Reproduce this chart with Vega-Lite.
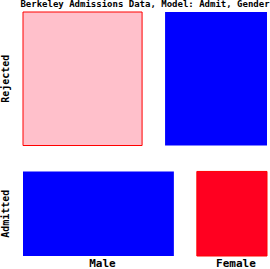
{
  "$schema": "https://vega.github.io/schema/vega-lite/v6.json",
  "width": 244,
  "height": 244,
  "autosize": "none",
  "padding": {"left": 23, "top": 12, "right": 3, "bottom": 13},
  "background": "white",
  "title": {
    "text": "Berkeley Admissions Data, Model: Admit, Gender",
    "font": "DejaVu Sans Mono",
    "fontSize": 9,
    "fontWeight": "bold",
    "color": "black",
    "anchor": "middle",
    "offset": 3
  },
  "data": {
    "values": [
      {"Admit": "Rejected", "Gender": "Male", "count": 1493},
      {"Admit": "Rejected", "Gender": "Female", "count": 1278},
      {"Admit": "Admitted", "Gender": "Male", "count": 1198},
      {"Admit": "Admitted", "Gender": "Female", "count": 557}
    ]
  },
  "transform": [
    {"joinaggregate": [{"op": "sum", "field": "count", "as": "total"}]},
    {"joinaggregate": [{"op": "sum", "field": "count", "as": "rowTotal"}], "groupby": ["Admit"]},
    {"joinaggregate": [{"op": "sum", "field": "count", "as": "colTotal"}], "groupby": ["Gender"]},
    {"calculate": "datum.rowTotal * datum.colTotal / datum.total", "as": "expected"},
    {"calculate": "(datum.count - datum.expected) / sqrt(datum.expected)", "as": "resid"},
    {"window": [{"op": "dense_rank", "as": "rowRank"}], "sort": [{"field": "Admit", "order": "descending"}]},
    {"window": [{"op": "row_number", "as": "colRank"}], "groupby": ["Admit"], "sort": [{"field": "Gender", "order": "descending"}]},
    {"stack": "count", "groupby": [], "sort": [{"field": "Admit", "order": "descending"}, {"field": "Gender", "order": "descending"}], "as": ["c0", "c1"]},
    {"joinaggregate": [{"op": "min", "field": "c0", "as": "rs"}, {"op": "max", "field": "c1", "as": "re"}], "groupby": ["Admit"]},
    {"calculate": "datum.rs / datum.total + (datum.rowRank - 1) * 0.119", "as": "ylo"},
    {"calculate": "datum.re / datum.total + (datum.rowRank - 1) * 0.119", "as": "yhi"},
    {"calculate": "(datum.ylo + datum.yhi) / 2", "as": "ymid"},
    {"stack": "count", "groupby": ["Admit"], "sort": [{"field": "Gender", "order": "descending"}], "as": ["g0", "g1"]},
    {"calculate": "datum.g0 / datum.rowTotal + (datum.colRank - 1) * 0.104", "as": "xlo"},
    {"calculate": "datum.g1 / datum.rowTotal + (datum.colRank - 1) * 0.104", "as": "xhi"},
    {"calculate": "(datum.xlo + datum.xhi) / 2", "as": "xmid"}
  ],
  "layer": [
    {
      "mark": {"type": "rect", "strokeWidth": 1},
      "encoding": {
        "x": {"field": "xlo", "type": "quantitative", "scale": {"domain": [0, 1.104], "nice": false, "zero": false}, "axis": null},
        "x2": {"field": "xhi"},
        "y": {"field": "ylo", "type": "quantitative", "scale": {"domain": [0, 1.119], "nice": false, "zero": false, "reverse": true}, "axis": null},
        "y2": {"field": "yhi"},
        "fill": {"field": "resid", "type": "quantitative", "scale": {"type": "threshold", "domain": [-4, -2, 2, 4], "range": ["#FF0020", "#FFC0CB", "#FFFFFF", "#ADD8E6", "#0000FF"]}, "legend": null},
        "stroke": {"field": "resid", "type": "quantitative", "scale": {"type": "threshold", "domain": [0], "range": ["#FF0000", "transparent"]}, "legend": null}
      }
    },
    {
      "transform": [{"filter": "datum.Gender == 'Male'"}],
      "mark": {"type": "text", "angle": 270, "align": "center", "baseline": "alphabetic", "dy": -14, "font": "DejaVu Sans Mono", "fontSize": 10, "fontWeight": "bold", "color": "black"},
      "encoding": {
        "x": {"field": "xlo", "type": "quantitative"},
        "y": {"field": "ymid", "type": "quantitative"},
        "text": {"field": "Admit"}
      }
    },
    {
      "transform": [{"filter": "datum.Admit == 'Admitted'"}],
      "mark": {"type": "text", "align": "center", "baseline": "alphabetic", "dy": 11, "dx": 4, "font": "DejaVu Sans Mono", "fontSize": 11, "fontWeight": "bold", "color": "black"},
      "encoding": {
        "x": {"field": "xmid", "type": "quantitative"},
        "y": {"field": "yhi", "type": "quantitative"},
        "text": {"field": "Gender"}
      }
    }
  ],
  "config": {"view": {"stroke": null}}
}
